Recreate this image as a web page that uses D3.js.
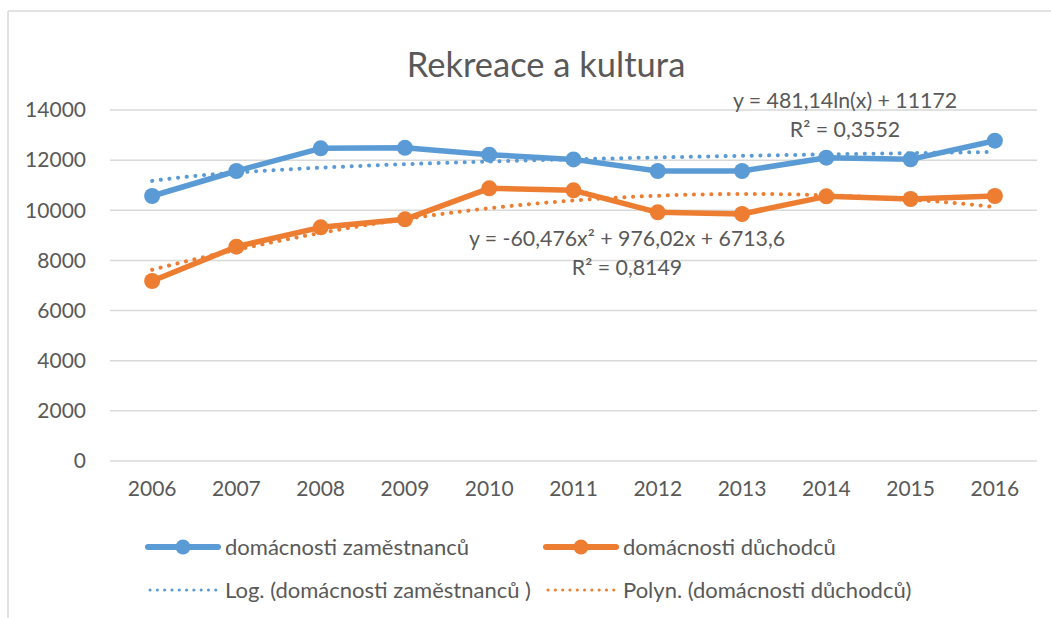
<!DOCTYPE html>
<html>
<head>
<meta charset="utf-8">
<script src="https://cdn.jsdelivr.net/npm/d3@7"></script>
<style>
  html, body { margin: 0; padding: 0; background: #fff; }
  svg text { font-family: Lato, "Open Sans", sans-serif; fill: #595959; }
</style>
</head>
<body>
<div id="chart"></div>
<script>
// data
var years = ["2006", "2007", "2008", "2009", "2010", "2011", "2012", "2013", "2014", "2015", "2016"];
var zamestnanci = [10570, 11567, 12472, 12490, 12217, 12030, 11567, 11567, 12097, 12033, 12775];
var duchodci = [7179, 8548, 9321, 9640, 10876, 10797, 9919, 9852, 10557, 10450, 10570];
var yTicks = [0, 2000, 4000, 6000, 8000, 10000, 12000, 14000];

// trendline equations shown in the chart
var logCoef = [481.14, 11172];
var polyCoef = [-60.476, 976.02, 6713.6];
var eqLabels = ["y = 481,14ln(x) + 11172", "R² = 0,3552", "y = -60,476x² + 976,02x + 6713,6", "R² = 0,8149"];

var seriesNames = ["domácnosti zaměstnanců", "domácnosti důchodců",
  "Log. (domácnosti zaměstnanců )", "Polyn. (domácnosti důchodců)"];

var blue = "#5b9bd5", orange = "#ed7d31";

function init() {
    var w = 1051, h = 618;

    var svg = d3.select("#chart").append("svg")
        .attr("width", w)
        .attr("height", h);

    // chart frame (only top and left edges visible)
    svg.append("line").attr("x1", 8).attr("x2", w).attr("y1", 11).attr("y2", 11)
        .attr("stroke", "#d9d9d9").attr("stroke-width", 1.5);
    svg.append("line").attr("x1", 8).attr("x2", 8).attr("y1", 11).attr("y2", h)
        .attr("stroke", "#d9d9d9").attr("stroke-width", 1.5);

    var x = d3.scaleBand().domain(years).range([110, 1037]);
    var y = d3.scaleLinear().domain([0, 14000]).range([461, 110]);
    var cx = function (d, i) { return x(years[i]) + x.bandwidth() / 2; };

    // title
    svg.append("text")
        .attr("x", 546).attr("y", 77)
        .attr("text-anchor", "middle")
        .style("font-size", "34.5px")
        .text("Rekreace a kultura");

    // gridlines
    svg.append("g").selectAll("line")
        .data(yTicks).enter().append("line")
        .attr("x1", 110).attr("x2", 1037)
        .attr("y1", function (d) { return y(d); })
        .attr("y2", function (d) { return y(d); })
        .attr("stroke", "#d9d9d9").attr("stroke-width", 1.5);

    // y axis labels
    var yAxis = svg.append("g")
        .attr("transform", "translate(86,0)")
        .call(d3.axisLeft(y).tickValues(yTicks).tickSize(0).tickPadding(0).tickFormat(d3.format("d")));
    yAxis.select(".domain").remove();
    yAxis.selectAll("text").style("font-size", "21px").attr("fill", "#595959");

    // x axis labels
    var xAxis = svg.append("g")
        .attr("transform", "translate(0,481)")
        .call(d3.axisBottom(x).tickSize(0).tickPadding(0));
    xAxis.select(".domain").remove();
    xAxis.selectAll("text").style("font-size", "21px").attr("fill", "#595959");

    // trendlines
    var xi = d3.scaleLinear().domain([1, years.length])
        .range([x(years[0]) + x.bandwidth() / 2, x(years[years.length - 1]) + x.bandwidth() / 2]);
    var steps = d3.range(1, years.length + 0.001, 0.1);
    var trend = d3.line().x(function (d) { return xi(d[0]); }).y(function (d) { return y(d[1]); });

    var logPts = steps.map(function (t) { return [t, logCoef[0] * Math.log(t) + logCoef[1]]; });
    var polyPts = steps.map(function (t) { return [t, polyCoef[0] * t * t + polyCoef[1] * t + polyCoef[2]]; });

    svg.append("path").datum(logPts).attr("d", trend)
        .attr("fill", "none").attr("stroke", blue).attr("stroke-width", 4)
        .attr("stroke-linecap", "round").attr("stroke-dasharray", "0.1 8.6");
    svg.append("path").datum(polyPts).attr("d", trend)
        .attr("fill", "none").attr("stroke", orange).attr("stroke-width", 4)
        .attr("stroke-linecap", "round").attr("stroke-dasharray", "0.1 8.6");

    // data lines with markers
    var line = d3.line().x(cx).y(function (d) { return y(d); });
    [[zamestnanci, blue], [duchodci, orange]].forEach(function (s) {
        svg.append("path").datum(s[0]).attr("d", line)
            .attr("fill", "none").attr("stroke", s[1]).attr("stroke-width", 5.5)
            .attr("stroke-linejoin", "round");
        svg.append("g").selectAll("circle")
            .data(s[0]).enter().append("circle")
            .attr("cx", cx)
            .attr("cy", function (d) { return y(d); })
            .attr("r", 8)
            .attr("fill", s[1]);
    });

    // trendline equations
    var eqPos = [[845, 108], [845, 137], [627, 246], [627, 275]];
    svg.append("g").selectAll("text")
        .data(eqLabels).enter().append("text")
        .attr("x", function (d, i) { return eqPos[i][0]; })
        .attr("y", function (d, i) { return eqPos[i][1]; })
        .attr("text-anchor", "middle")
        .style("font-size", "21.3px")
        .text(function (d) { return d; });

    // legend
    var legendItems = [
        { name: seriesNames[0], color: blue, dotted: false, x: 148, y: 547 },
        { name: seriesNames[1], color: orange, dotted: false, x: 546, y: 547 },
        { name: seriesNames[2], color: blue, dotted: true, x: 148, y: 590 },
        { name: seriesNames[3], color: orange, dotted: true, x: 546, y: 590 }
    ];
    var lg = svg.append("g").selectAll("g")
        .data(legendItems).enter().append("g")
        .attr("transform", function (d) { return "translate(" + d.x + "," + d.y + ")"; });
    lg.append("line")
        .attr("x1", function (d) { return d.dotted ? 2 : 0; })
        .attr("x2", function (d) { return d.dotted ? 68 : 70; })
        .attr("stroke", function (d) { return d.color; })
        .attr("stroke-width", function (d) { return d.dotted ? 3 : 6; })
        .attr("stroke-linecap", "round")
        .attr("stroke-dasharray", function (d) { return d.dotted ? "0.1 7.2" : null; });
    lg.filter(function (d) { return !d.dotted; }).append("circle")
        .attr("cx", 35).attr("r", 7.5)
        .attr("fill", function (d) { return d.color; });
    lg.append("text")
        .attr("x", 77).attr("dy", "0.35em")
        .style("font-size", "22px")
        .text(function (d) { return d.name; });
}
window.onload = init;
</script>
</body>
</html>
